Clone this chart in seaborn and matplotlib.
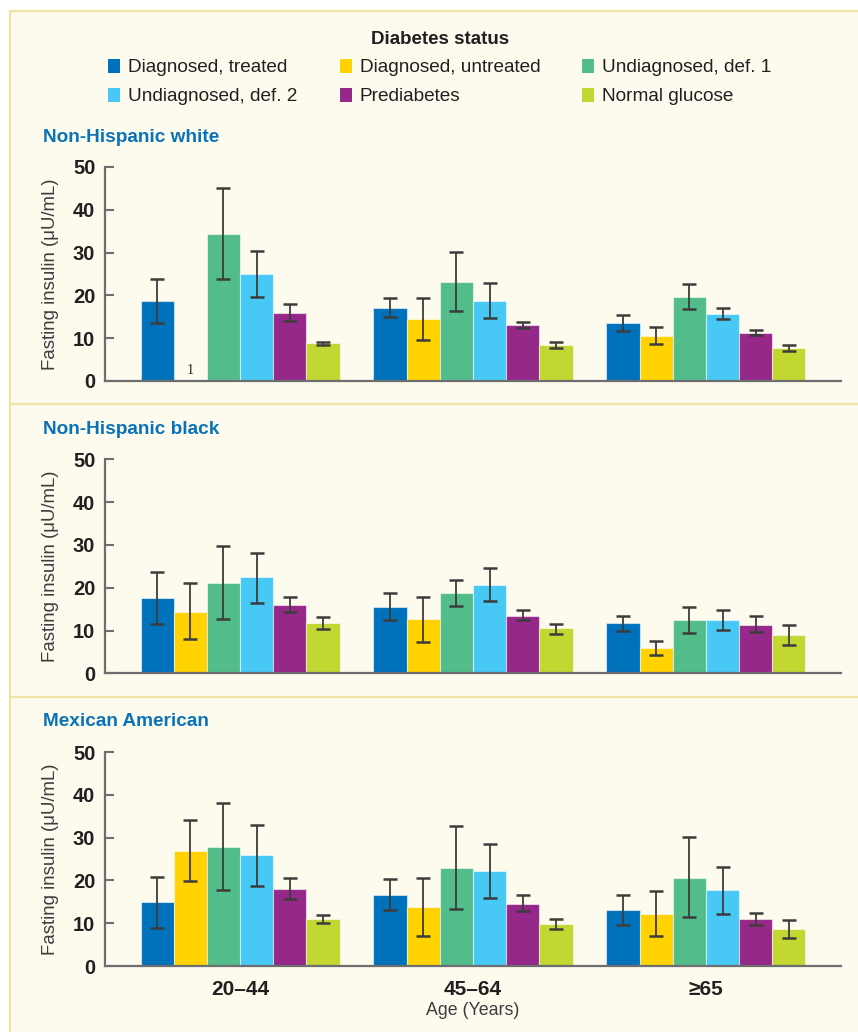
import numpy as np
import pandas as pd
import matplotlib
matplotlib.use("Agg")
import matplotlib.pyplot as plt
import seaborn as sns
from matplotlib.patches import Patch, Rectangle
from matplotlib.lines import Line2D

# ---- data -------------------------------------------------------------
age_groups = ["20–44", "45–64", "≥65"]
statuses = ["Diagnosed, treated", "Diagnosed, untreated", "Undiagnosed, def. 1",
            "Undiagnosed, def. 2", "Prediabetes", "Normal glucose"]
panel_titles = ["Non-Hispanic white", "Non-Hispanic black", "Mexican American"]

# mean fasting insulin (µU/mL); rows follow `statuses`, columns follow `age_groups`
white_mean = [[18.7, 17.0, 13.5], [np.nan, 14.4, 10.6], [34.3, 23.2, 19.7],
              [24.9, 18.6, 15.6], [15.9, 13.0, 11.3], [8.8, 8.3, 7.7]]
white_lo = [[13.6, 14.9, 11.7], [np.nan, 9.6, 8.6], [23.8, 16.3, 16.8],
            [19.7, 14.7, 14.5], [14.1, 12.4, 10.7], [8.4, 7.7, 7.0]]
white_hi = [[23.8, 19.3, 15.5], [np.nan, 19.3, 12.6], [45.1, 30.1, 22.7],
            [30.3, 22.8, 17.1], [18.0, 13.8, 12.0], [9.2, 9.2, 8.5]]

black_mean = [[17.6, 15.5, 11.7], [14.4, 12.6, 6.0], [21.2, 18.8, 12.4],
              [22.4, 20.6, 12.4], [16.0, 13.4, 11.4], [11.7, 10.5, 8.9]]
black_lo = [[11.6, 12.5, 9.9], [8.0, 7.3, 4.3], [12.7, 15.8, 9.4],
            [16.5, 16.9, 10.1], [14.4, 12.5, 9.7], [10.4, 9.2, 6.6]]
black_hi = [[23.7, 18.7, 13.5], [21.0, 17.9, 7.6], [29.8, 21.9, 15.4],
            [28.2, 24.7, 14.9], [17.9, 14.7, 13.3], [13.2, 11.6, 11.2]]

mexican_mean = [[14.9, 16.7, 13.0], [26.9, 13.7, 12.2], [27.8, 22.8, 20.6],
                [25.9, 22.2, 17.7], [17.9, 14.6, 10.9], [10.9, 9.7, 8.6]]
mexican_lo = [[8.9, 13.1, 9.6], [19.9, 7.0, 7.0], [17.8, 13.3, 11.4],
              [18.7, 15.9, 12.1], [15.7, 12.9, 9.6], [10.0, 8.6, 6.5]]
mexican_hi = [[20.8, 20.3, 16.6], [34.1, 20.6, 17.5], [38.1, 32.7, 30.1],
              [32.9, 28.5, 23.1], [20.6, 16.6, 12.4], [11.9, 11.0, 10.7]]

# ---- style ------------------------------------------------------------
palette = ["#0072bc", "#ffd200", "#52bc8a", "#47c8f5", "#952889", "#c2d732"]
cream = "#fdfbee"
rule = "#efe4a4"
ink = "#231f20"
spine_grey = "#6d6e70"
title_blue = "#0a72b9"

sns.set_style("ticks")
plt.rcParams["font.family"] = ["Liberation Sans", "DejaVu Sans"]

W, H = 858, 1032
fig = plt.figure(figsize=(W / 100, H / 100), dpi=100, facecolor="white")

# cream panel background and dividing rules
fig.patches.append(Rectangle((10 / W, 0), 1, 1 - 11 / H, transform=fig.transFigure,
                             facecolor=cream, edgecolor="none", zorder=-10))
for y in (11, 404, 697):
    fig.add_artist(Line2D([10 / W, 1], [1 - y / H] * 2, color=rule, lw=1.6, zorder=-5))
fig.add_artist(Line2D([10 / W] * 2, [0, 1 - 11 / H], color=rule, lw=1.6, zorder=-5))

panels = [(white_mean, white_lo, white_hi),
          (black_mean, black_lo, black_hi),
          (mexican_mean, mexican_lo, mexican_hi)]
zero_px = [381, 673.3, 966]
title_px = [137, 429, 722]
group_width = 0.855

for k, ((mean, lo, hi), y0, ty) in enumerate(zip(panels, zero_px, title_px)):
    ax = fig.add_axes([105 / W, 1 - y0 / H, 736 / W, 214 / H])
    ax.set_facecolor("none")
    df = pd.DataFrame([
        {"age": a, "status": s, "insulin": mean[i][j]}
        for i, s in enumerate(statuses) for j, a in enumerate(age_groups)
    ])
    sns.barplot(data=df, x="age", y="insulin", hue="status", order=age_groups,
                hue_order=statuses, palette=palette, width=group_width,
                errorbar=None, legend=False, ax=ax,
                edgecolor=(1, 1, 1, 0.55), linewidth=0.8, saturation=1)

    # interval whiskers on every drawn bar
    slot = group_width / len(statuses)
    for bar in list(ax.patches):
        h = bar.get_height()
        if not np.isfinite(h) or h == 0:
            continue
        cx = bar.get_x() + bar.get_width() / 2
        j = int(round(cx))
        i = int(round((cx - j + group_width / 2) / slot - 0.5))
        _, caps, _ = ax.errorbar(cx, h, yerr=[[h - lo[i][j]], [hi[i][j] - h]],
                                 fmt="none", ecolor="#3c3c3c", elinewidth=1.3,
                                 capsize=5, capthick=1.8, zorder=5)
        for c in caps:
            c.set_color(ink)

    # footnote marker where a group has no estimate
    for i in range(len(statuses)):
        for j in range(len(age_groups)):
            if np.isnan(mean[i][j]):
                cx = j - group_width / 2 + (i + 0.5) * slot
                ax.text(cx, 1.0, "1", ha="center", va="bottom", fontsize=10,
                        family=["Liberation Serif", "DejaVu Serif"], color=ink)

    ax.set_xlim(-0.58, 2.58)
    ax.set_ylim(0, 50)
    ax.set_yticks([0, 10, 20, 30, 40, 50])
    sns.despine(ax=ax)
    for side in ("left", "bottom"):
        ax.spines[side].set_color(spine_grey)
        ax.spines[side].set_linewidth(1.6)
    ax.tick_params(axis="y", direction="in", length=6.5, width=1.5, color=spine_grey,
                   pad=7, labelsize=14.5, labelcolor=ink)
    for t in ax.get_yticklabels():
        t.set_fontweight("bold")
    ax.tick_params(axis="x", length=0, pad=10, labelsize=15, labelcolor=ink)
    ax.set_ylabel("Fasting insulin (μU/mL)", fontsize=13.4, color="#3d3d3f")
    ax.yaxis.set_label_coords(-0.062, 0.5)
    if k < 2:
        ax.set_xticklabels([])
        ax.set_xlabel("")
    else:
        for t in ax.get_xticklabels():
            t.set_fontweight("bold")
        ax.set_xlabel("Age (Years)", fontsize=12.8, color="#3d3d3f", labelpad=2)

    fig.text(43 / W, 1 - ty / H, panel_titles[k], ha="left", va="center",
             fontsize=13.7, fontweight="bold", color=title_blue)

# legend laid out in three columns, filled row by row
handles = [Patch(facecolor=c, edgecolor="none") for c in palette]
order = [0, 3, 1, 4, 2, 5]
leg = fig.legend([handles[i] for i in order], [statuses[i] for i in order],
                 ncol=3, loc="upper center", bbox_to_anchor=(440 / W, 1 - 21 / H),
                 frameon=False, fontsize=13.7, title="Diabetes status",
                 title_fontproperties={"weight": "bold", "size": 13.5},
                 handlelength=0.63, handleheight=0.74, handletextpad=0.42,
                 columnspacing=2.2, labelspacing=0.6, borderpad=0)
for t in leg.get_texts():
    t.set_color(ink)
leg.get_title().set_color(ink)

fig.savefig("out.png", dpi=100, facecolor="white")
